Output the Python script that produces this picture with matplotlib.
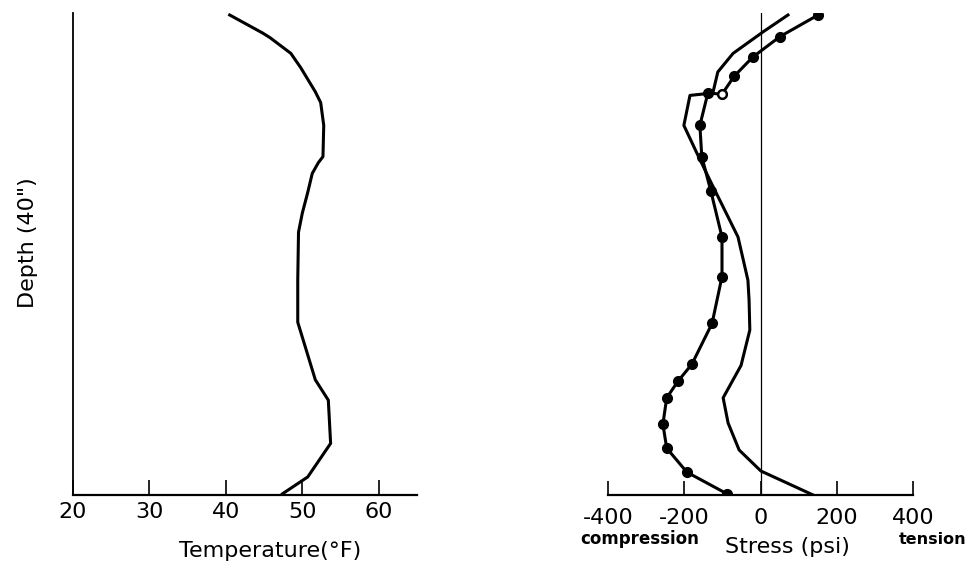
import matplotlib
matplotlib.use("Agg")
import matplotlib.pyplot as plt

plt.rcParams['font.family'] = ['DejaVu Sans']
plt.rcParams['axes.unicode_minus'] = False

# ---- data ----
# Temperature profile (°F) vs depth (inches, 0 = top, 40 = bottom)
temp_depth = [0, 1.5, 1.9, 3.2, 4.4, 6.4, 7.3, 9.2, 11.8, 12.3, 13.2, 14.8, 16.5, 18.1,
              22.1, 25.6, 30.4, 32.1, 35.7, 38.5, 39.9]
temp_values = [40.5, 44.8, 45.8, 48.5, 49.8, 51.7, 52.4, 52.8, 52.7, 52.1, 51.3, 50.7, 50.0, 49.5,
               49.4, 49.4, 51.7, 53.4, 53.7, 50.7, 47.4]

# Stress profile with markers (psi)
stress_dot_depth = [0, 1.8, 3.5, 5.1, 6.6, 6.5, 9.2, 11.8, 14.7, 18.5, 21.8, 25.7, 29.1,
                    30.5, 31.9, 34.1, 36.1, 38.1, 39.9]
stress_dot_values = [151, 51, -20, -69, -101, -138, -159, -154, -130, -101, -101, -127, -180,
                     -216, -246, -256, -246, -193, -88]
open_point_depth = [6.6]
open_point_value = [-101]

# Stress profile, plain line (psi)
stress_line_depth = [0, 1.4, 3.2, 4.75, 6.5, 6.7, 9.2, 11.5, 13.75, 18.5, 22.1, 23.75, 26.25,
                     29.2, 31.9, 34.0, 36.25, 38.0, 40.0]
stress_line_values = [72, 7, -72, -112, -125, -185, -201, -167, -133, -59, -33, -30, -28,
                      -51, -98, -85, -56, 1, 138]

temp_ticks = [20, 30, 40, 50, 60]
stress_ticks = [-400, -200, 0, 200, 400]

W, H = 972, 566
fig = plt.figure(figsize=(W / 100, H / 100), dpi=100)

def fx(px):
    return px / W

def fy(py):
    return 1 - py / H

top_px, bot_px = 13, 495
d_top = (top_px - 15) / 12.0

# ---- left panel ----
axL = fig.add_axes([fx(73), fy(bot_px), fx(417) - fx(73), fy(top_px) - fy(bot_px)])
axL.plot(temp_values, temp_depth, color='black', lw=2.2)
axL.set_xlim(20, 65)
axL.set_ylim(40, d_top)
for s in ['top', 'right']:
    axL.spines[s].set_visible(False)
axL.spines['left'].set_linewidth(1.3)
axL.spines['bottom'].set_linewidth(1.6)
axL.set_yticks([])
axL.set_xticks(temp_ticks)
axL.set_xticklabels([str(t) for t in temp_ticks])
axL.tick_params(axis='x', direction='in', length=11, width=1.2, pad=5, labelsize=16)

fig.text(fx(270), fy(551), 'Temperature(°F)', ha='center', va='center', fontsize=16)
fig.text(fx(28), fy(243), 'Depth (40")', ha='center', va='center', fontsize=16, rotation=90)

# ---- right panel ----
axR = fig.add_axes([fx(608), fy(bot_px), fx(913) - fx(608), fy(top_px) - fy(bot_px)])
axR.plot(stress_line_values, stress_line_depth, color='black', lw=2.2)
axR.plot(stress_dot_values, stress_dot_depth, color='black', lw=2.2,
         marker='o', markersize=7, markerfacecolor='black', markeredgecolor='black')
axR.plot(open_point_value, open_point_depth, linestyle='none', marker='o', markersize=6,
         markerfacecolor='white', markeredgecolor='black', markeredgewidth=1.5)
axR.axvline(0, color='black', lw=0.9)
axR.set_xlim(-400, 400)
axR.set_ylim(40, d_top)
for s in ['top', 'right', 'left']:
    axR.spines[s].set_visible(False)
axR.spines['bottom'].set_linewidth(1.6)
axR.set_yticks([])
axR.set_xticks(stress_ticks)
axR.set_xticklabels([str(t) for t in stress_ticks])
axR.tick_params(axis='x', direction='in', length=10, width=1.2, pad=9, labelsize=16)

fig.text(fx(787), fy(547), 'Stress (psi)', ha='center', va='center', fontsize=16)
fig.text(fx(640), fy(539), 'compression', ha='center', va='center', fontsize=12, fontweight='bold')
fig.text(fx(933), fy(539), 'tension', ha='center', va='center', fontsize=11.5, fontweight='bold')

fig.savefig('out.png', dpi=100)
